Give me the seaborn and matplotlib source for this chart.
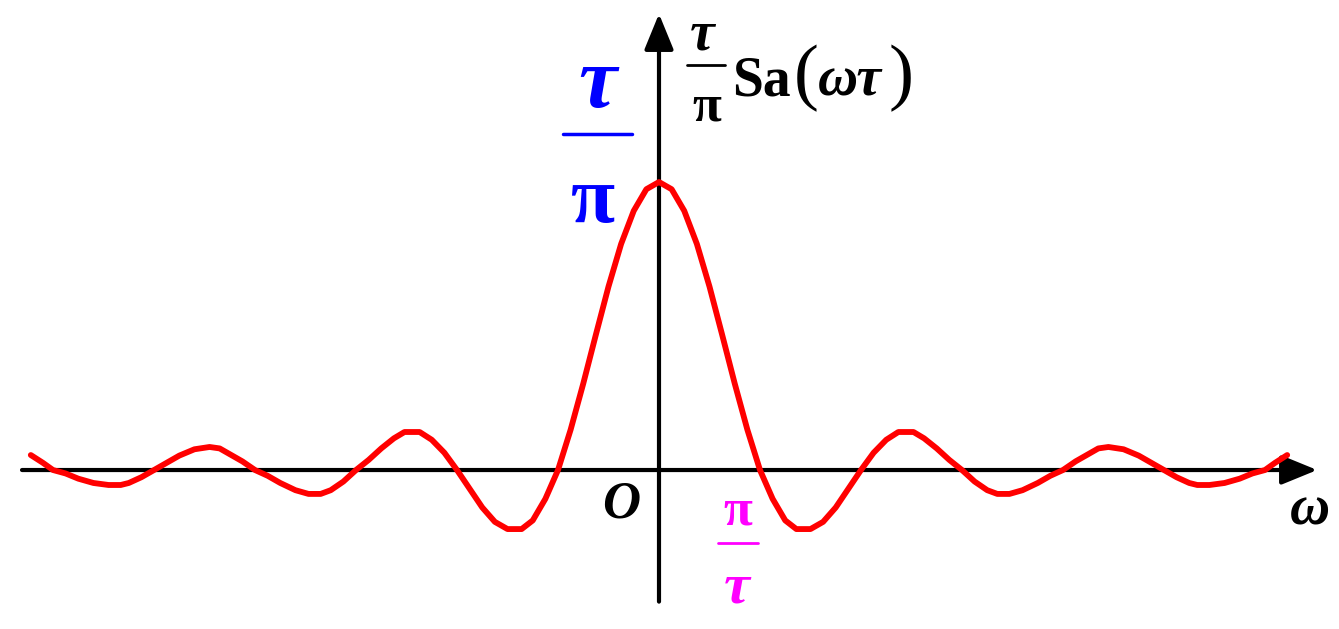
#---------------------------------------
# Amplitude spectrum of a rectangular
# pulse: (tau/pi) Sa(omega tau)
#---------------------------------------

import numpy as np
import pandas as pd
import matplotlib
matplotlib.use("Agg")
import matplotlib.pyplot as plt
import seaborn as sns

#--------------------DATA-----------------------

# omega in units of pi/tau (right half)
omega_half = [0.0, 0.125, 0.25, 0.375, 0.5, 0.625, 0.75, 0.875, 1.0,
              1.125, 1.25, 1.36, 1.5, 1.625, 1.75, 1.875, 2.0,
              2.125, 2.25, 2.37, 2.52, 2.625, 2.75, 2.875, 3.0,
              3.125, 3.25, 3.35, 3.47, 3.6, 3.75, 3.875, 4.0,
              4.125, 4.25, 4.35, 4.45, 4.6, 4.75, 4.875, 5.0,
              5.125, 5.25, 5.33, 5.45, 5.6, 5.75, 5.875, 6.0, 6.1, 6.22]

# spectrum normalised to tau/pi
amp_half = [1.0, 0.975, 0.90, 0.785, 0.637, 0.47, 0.30, 0.14, 0.0,
            -0.10, -0.175, -0.205, -0.205, -0.18, -0.13, -0.065, 0.0,
            0.06, 0.105, 0.132, 0.132, 0.11, 0.075, 0.035, 0.0,
            -0.04, -0.07, -0.083, -0.083, -0.07, -0.045, -0.02, 0.0,
            0.03, 0.055, 0.075, 0.08, 0.072, 0.05, 0.025, 0.0,
            -0.025, -0.045, -0.052, -0.052, -0.045, -0.03, -0.012, 0.0, 0.025, 0.052]

omega = [-w for w in omega_half[:0:-1]] + omega_half
amp = amp_half[:0:-1] + amp_half
spec = pd.DataFrame({"omega": omega, "amp": amp})

#--------------------PLOT-----------------------

sns.set_style("white")
fig = plt.figure(figsize=(13.39, 6.29), dpi=100)
ax = fig.add_axes([0, 0, 1, 1])
ax.set_xlim(-6.525, 6.733)
ax.set_ylim(-0.552, 1.632)
ax.axis("off")

serif = ["Liberation Serif", "DejaVu Serif"]

# axes with arrows
arrow = dict(arrowstyle="-|>,head_length=1.1,head_width=0.45", lw=3,
             color="black", mutation_scale=20, shrinkA=0, shrinkB=0)
ax.annotate("", xy=(6.517, 0), xytext=(-6.307, 0), arrowprops=arrow)
ax.annotate("", xy=(0, 1.584), xytext=(0, -0.457), arrowprops=arrow)

sns.lineplot(data=spec, x="omega", y="amp", ax=ax, color="#ff0000",
             lw=4.2, sort=False, zorder=3)

# blue tau/pi at peak
ax.text(-0.61, 1.33, "τ", color="blue", fontsize=62, family=serif,
        weight="bold", style="italic", ha="center", va="center")
ax.plot([-0.95, -0.27], [1.166, 1.166], color="blue", lw=2.5)
ax.text(-0.65, 0.93, "π", color="blue", fontsize=58, family=serif,
        weight="bold", ha="center", va="center")

# y label
ax.text(0.43, 1.51, "τ", color="black", fontsize=40, family=serif,
        weight="bold", style="italic", ha="center", va="center")
ax.plot([0.28, 0.65], [1.406, 1.406], color="black", lw=2)
ax.text(0.47, 1.26, "π", color="black", fontsize=38, family=serif,
        weight="bold", ha="center", va="center")
ax.text(0.72, 1.35, "Sa", color="black", fontsize=40, family=serif,
        weight="bold", ha="left", va="center")
ax.text(1.33, 1.36, "(", color="black", fontsize=54, family=serif,
        ha="left", va="center")
ax.text(1.57, 1.35, "ωτ", color="black", fontsize=40, family=serif,
        weight="bold", style="italic", ha="left", va="center")
ax.text(2.27, 1.36, ")", color="black", fontsize=54, family=serif,
        ha="left", va="center")

# origin and omega labels
ax.text(-0.37, -0.12, "O", color="black", fontsize=38, family=serif,
        weight="bold", style="italic", ha="center", va="center")
ax.text(6.44, -0.14, "ω", color="black", fontsize=40, family=serif,
        weight="bold", style="italic", ha="center", va="center")

# magenta pi/tau
ax.text(0.78, -0.145, "π", color="#ff00ff", fontsize=38, family=serif,
        weight="bold", ha="center", va="center")
ax.plot([0.585, 0.98], [-0.253, -0.253], color="#ff00ff", lw=2)
ax.text(0.77, -0.41, "τ", color="#ff00ff", fontsize=42, family=serif,
        weight="bold", style="italic", ha="center", va="center")

plt.savefig("out.png", dpi=100)
